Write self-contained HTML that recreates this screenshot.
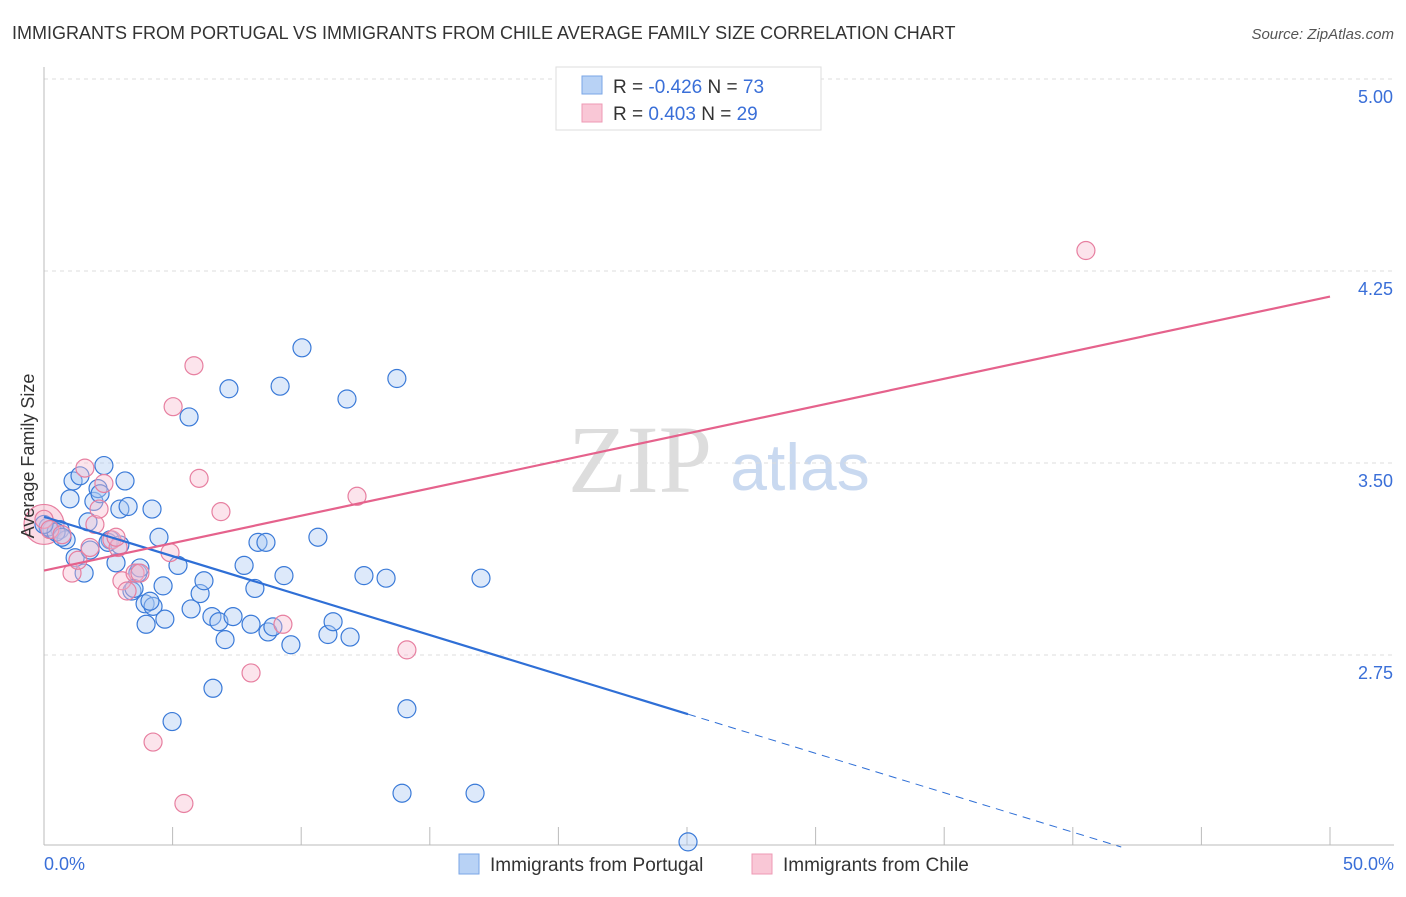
<!DOCTYPE html>
<html><head><meta charset="utf-8"><style>
body{margin:0;background:#fff;font-family:"Liberation Sans",sans-serif;}
</style></head><body>
<svg width="1406" height="892" xmlns="http://www.w3.org/2000/svg" font-family="Liberation Sans, sans-serif">
<text x="12" y="39" font-size="18" fill="#333">IMMIGRANTS FROM PORTUGAL VS IMMIGRANTS FROM CHILE AVERAGE FAMILY SIZE CORRELATION CHART</text>
<text x="1394" y="39" font-size="15" fill="#555" text-anchor="end" font-style="italic">Source: ZipAtlas.com</text>
<text x="640" y="492" font-size="96" fill="#ddd" font-family="Liberation Serif, serif" text-anchor="middle">ZIP</text>
<text x="800" y="490" font-size="66" fill="#c9d9f0" text-anchor="middle">atlas</text>
<g id="grid"></g><g id="axes"></g><g id="marks"></g>
<text x="34" y="456" font-size="18" fill="#333" text-anchor="middle" transform="rotate(-90 34 456)">Average Family Size</text>
<text x="44" y="870" font-size="18" fill="#3a6fd8">0.0%</text>
<text x="1394" y="870" font-size="18" fill="#3a6fd8" text-anchor="end">50.0%</text>
<g>
<rect x="556" y="67" width="265" height="63" fill="#fff" stroke="#ddd"/>
<rect x="582" y="76" width="20" height="18" fill="#b8d2f5" stroke="#7aa6e6"/>
<rect x="582" y="104" width="20" height="18" fill="#f9c7d6" stroke="#ee9ab4"/>
<text x="613" y="93" font-size="19" fill="#333">R = <tspan fill="#3a6fd8">-0.426</tspan>   N = <tspan fill="#3a6fd8">73</tspan></text>
<text x="613" y="120" font-size="19" fill="#333">R =  <tspan fill="#3a6fd8"> 0.403</tspan>   N = <tspan fill="#3a6fd8">29</tspan></text>
</g>
<g>
<rect x="459" y="854" width="20" height="20" fill="#b8d2f5" stroke="#7aa6e6"/>
<text x="490" y="871" font-size="19" fill="#333">Immigrants from Portugal</text>
<rect x="752" y="854" width="20" height="20" fill="#f9c7d6" stroke="#ee9ab4"/>
<text x="783" y="871" font-size="19" fill="#333">Immigrants from Chile</text>
</g>
</svg>
<script>
const yTicks=[5.00,4.25,3.50,2.75];
const xTicks=[0,5,10,15,20,25,30,35,40,45,50];
const blueX=[0.31,0.62,0.86,1.01,1.13,1.21,1.40,1.56,1.71,1.79,1.94,2.10,2.18,2.33,2.80,2.95,3.15,3.27,2.57,3.42,3.65,3.73,3.93,3.97,4.20,4.24,4.47,4.63,4.70,5.21,4.98,5.64,5.72,6.07,6.22,6.53,6.57,6.80,7.04,7.19,7.35,7.78,8.05,8.20,8.32,8.63,8.71,8.90,9.18,9.33,9.60,10.03,10.65,11.04,11.24,11.78,11.90,12.44,13.30,13.72,13.92,14.11,16.76,16.99,25.04,0.16,0.47,0.70,2.49,2.95,3.50,4.12,0.0];
const blueY=[3.24,3.24,3.20,3.36,3.43,3.13,3.45,3.07,3.27,3.16,3.35,3.40,3.38,3.49,3.11,3.32,3.43,3.33,3.20,3.00,3.07,3.09,2.95,2.87,3.32,2.94,3.21,3.02,2.89,3.10,2.49,3.68,2.93,2.99,3.04,2.90,2.62,2.88,2.81,3.79,2.90,3.10,2.87,3.01,3.19,3.19,2.84,2.86,3.80,3.06,2.79,3.95,3.21,2.83,2.88,3.75,2.82,3.06,3.05,3.83,2.21,2.54,2.21,3.05,2.02,3.25,3.23,3.21,3.19,3.18,3.01,2.96,3.26];
const pinkX=[0,0.23,0.70,1.09,1.32,1.59,1.79,1.98,2.14,2.33,2.64,2.88,3.03,3.23,3.54,3.73,4.24,4.90,5.02,5.44,5.83,6.03,6.88,8.05,9.29,12.17,14.11,40.51,2.80];
const pinkY=[3.28,3.24,3.22,3.07,3.12,3.48,3.17,3.26,3.32,3.42,3.20,3.17,3.04,3.00,3.07,3.07,2.41,3.15,3.72,2.17,3.88,3.44,3.31,2.68,2.87,3.37,2.77,4.33,3.21];
const blueFit=[3.29,-0.0308];
const pinkFit=[3.08,0.0214];
const X=v=>44+v/50*1286, Y=v=>79+(5-v)*256;
const NS="http://www.w3.org/2000/svg";
function mk(t,a,p){const e=document.createElementNS(NS,t);for(const k in a)e.setAttribute(k,a[k]);p.appendChild(e);return e;}
const grid=document.getElementById('grid'),axes=document.getElementById('axes'),marks=document.getElementById('marks');
yTicks.forEach(v=>{
const l=mk('line',{x1:44,x2:1394,y1:Y(v),y2:Y(v),stroke:'#ddd','stroke-dasharray':'4,4'},grid);


const t=mk('text',{x:1393,y:Y(v)+24,'font-size':18,fill:'#3a6fd8','text-anchor':'end'},grid);
t.textContent=v.toFixed(2);


});
const ya=mk('line',{x1:44,x2:44,y1:67,y2:845,stroke:'#bbb'},axes);


const xa=mk('line',{x1:44,x2:1394,y1:845,y2:845,stroke:'#bbb'},axes);


xTicks.forEach(v=>{
const l=mk('line',{x1:X(v),x2:X(v),y1:827,y2:845,stroke:'#bbb'},axes);


});
function dot(x,y,r,fill,stroke,name){
const c=mk('circle',{cx:X(x),cy:Y(y),r:r,fill:fill,'fill-opacity':0.4,stroke:stroke,'stroke-width':1.2},marks);


}
dot(0,3.26,20,'#f4a8c0','#e77fa0','pink-large-point');
blueX.forEach((x,i)=>dot(x,blueY[i],9,'#a9c8f2','#3a7ad8','portugal-point'));
pinkX.forEach((x,i)=>dot(x,pinkY[i],9,'#f7bcd0','#e77fa0','chile-point'));
const bEnd=25.04, bDash=(2.0-blueFit[0])/blueFit[1];
const bl=mk('line',{x1:X(0),y1:Y(blueFit[0]),x2:X(bEnd),y2:Y(blueFit[0]+blueFit[1]*bEnd),stroke:'#2f6fd6','stroke-width':2.2},marks);


const bd=mk('line',{x1:X(bEnd),y1:Y(blueFit[0]+blueFit[1]*bEnd),x2:X(bDash),y2:Y(2.0),stroke:'#2f6fd6','stroke-width':1,'stroke-dasharray':'8,6'},marks);


const pl=mk('line',{x1:X(0),y1:Y(pinkFit[0]),x2:X(50),y2:Y(pinkFit[0]+pinkFit[1]*50),stroke:'#e5628c','stroke-width':2.2},marks);


</script>
</body></html>
